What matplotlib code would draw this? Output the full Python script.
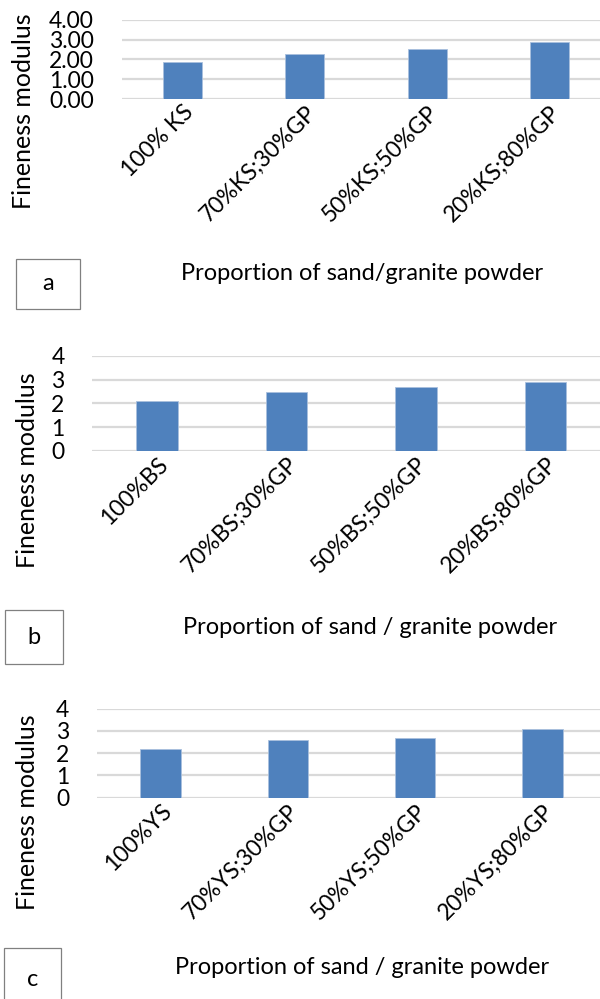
import matplotlib
matplotlib.use("Agg")
import matplotlib.pyplot as plt
from matplotlib.patches import Rectangle
from matplotlib.transforms import ScaledTranslation

plt.rcParams['font.family'] = ['Lato', 'DejaVu Sans']

# data
cats_a = ["100% KS", "70%KS;30%GP", "50%KS;50%GP", "20%KS;80%GP"]
fm_a = [1.85, 2.29, 2.54, 2.89]
ticks_a = ["0.00", "1.00", "2.00", "3.00", "4.00"]

cats_b = ["100%BS", "70%BS;30%GP", "50%BS;50%GP", "20%BS;80%GP"]
fm_b = [2.1, 2.5, 2.7, 2.9]

cats_c = ["100%YS", "70%YS;30%GP", "50%YS;50%GP", "20%YS;80%GP"]
fm_c = [2.2, 2.6, 2.7, 3.1]

ticks_int = ["0", "1", "2", "3", "4"]
xlabel_a = "Proportion of sand/granite powder"
xlabel_bc = "Proportion of sand / granite powder"
ylabel = "Fineness modulus"

W, H = 600, 999
fig = plt.figure(figsize=(W / 100, H / 100), dpi=100)

BAR = "#4f81bd"
GRID = "#d9d9d9"


def px_axes(l, t, r, b):
    return fig.add_axes([l / W, 1 - b / H, (r - l) / W, (b - t) / H])


def panel(box, cats, vals, yticks):
    ax = px_axes(*box)
    x = range(len(cats))
    ax.bar(x, vals, width=0.32, color=BAR, edgecolor="#a9c0dd", linewidth=0.6, zorder=3)
    ax.set_xlim(-0.5, len(cats) - 0.5)
    ax.set_ylim(0, 4)
    ax.set_yticks(range(5))
    ax.set_yticklabels(yticks, fontsize=16.5)
    ax.set_xticks(list(x))
    ax.set_xticklabels(cats, rotation=45, ha="right", va="top",
                       rotation_mode="anchor", fontsize=16.5)
    # nudge rotated labels to the right, like the original
    shift = ScaledTranslation(15 / 100, 0, fig.dpi_scale_trans)
    for lab in ax.get_xticklabels():
        lab.set_transform(lab.get_transform() + shift)
    ax.yaxis.grid(True, color=GRID, linewidth=1.6, zorder=0)
    ax.tick_params(length=0)
    ax.tick_params(axis="y", pad=20)
    ax.tick_params(axis="x", pad=2)
    for s in ax.spines.values():
        s.set_visible(False)
    return ax


def label_box(l, t, r, b, letter, tx, ty, text, ylx, yly):
    fig.add_artist(Rectangle((l / W, 1 - b / H), (r - l) / W, (b - t) / H,
                             transform=fig.transFigure, fill=False,
                             edgecolor="#808080", linewidth=0.9))
    fig.text((l + r) / 2 / W, 1 - (t + b) / 2 / H, letter, fontsize=17,
             ha="center", va="center")
    fig.text(tx / W, 1 - ty / H, text, fontsize=17, ha="center", va="center")
    fig.text(ylx / W, 1 - yly / H, ylabel, fontsize=18, rotation=90,
             ha="center", va="center")


panel((121.6, 19.7, 610.4, 99), cats_a, fm_a, ticks_a)
panel((92.4, 356, 610.5, 450.7), cats_b, fm_b, ticks_int)
panel((97.2, 708.7, 605.9, 797.7), cats_c, fm_c, ticks_int)

label_box(16, 259, 80, 309, "a", 362, 273, xlabel_a, 24, 111)
label_box(5, 610, 63, 664, "b", 370, 627, xlabel_bc, 28, 470)
label_box(4, 948, 61, 1010, "c", 362, 968, xlabel_bc, 28, 812)

fig.savefig("out.png", dpi=100)
